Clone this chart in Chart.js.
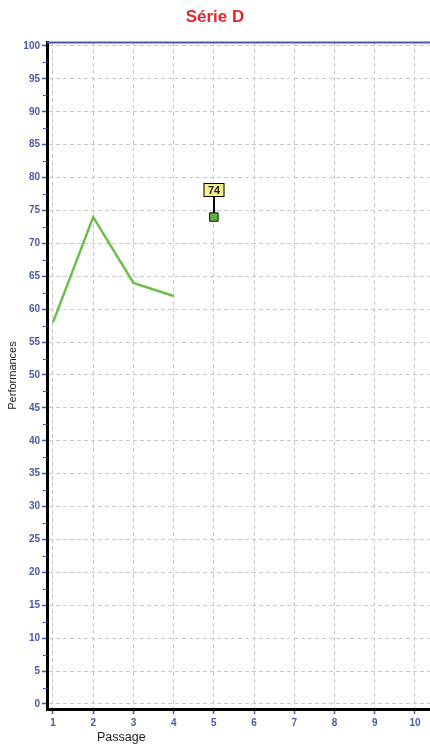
<!DOCTYPE html>
<html>
<head>
<meta charset="utf-8">
<script src="https://cdn.jsdelivr.net/npm/chart.js@4.4.1/dist/chart.umd.min.js"></script>
<style>
  html, body { margin: 0; padding: 0; background: #ffffff; }
  #wrap { width: 430px; height: 749px; }
</style>
</head>
<body>
<div id="wrap"><canvas id="c" width="430" height="749"></canvas></div>
<script>
// ---- data ----
const chartTitle = 'Série D';
const xAxisTitle = 'Passage';
const yAxisTitle = 'Performances';
const passages = [1, 2, 3, 4];
const seriesD = [58, 74, 64, 62];
const highlightPassage = [5];
const highlightValue = [74];
const xTickValues = [1, 2, 3, 4, 5, 6, 7, 8, 9, 10];
const yTickValues = [0, 5, 10, 15, 20, 25, 30, 35, 40, 45, 50, 55, 60, 65, 70, 75, 80, 85, 90, 95, 100];

const tickBlue = '#4a5aa8';
const font = 'Liberation Sans, Arial, sans-serif';

const lineData = passages.map((p, i) => ({ x: p, y: seriesD[i] }));
const pointData = highlightPassage.map((p, i) => ({ x: p, y: highlightValue[i] }));

const decor = {
  id: 'decor',
  beforeDatasetsDraw(chart) {
    const { ctx, chartArea } = chart;
    const ys = chart.scales.y;
    ctx.save();
    ctx.strokeStyle = '#4a5aa8';
    ctx.lineWidth = 2;
    ctx.beginPath();
    ctx.moveTo(chartArea.left, chartArea.top + 0.5);
    ctx.lineTo(chartArea.right, chartArea.top + 0.5);
    ctx.stroke();
    // minor ticks on the y axis (halfway between labelled ticks)
    ctx.strokeStyle = tickBlue;
    ctx.lineWidth = 1;
    ctx.beginPath();
    for (let i = 0; i < yTickValues.length - 1; i++) {
      const v = (yTickValues[i] + yTickValues[i + 1]) / 2;
      const py = Math.round(ys.getPixelForValue(v)) + 0.5;
      ctx.moveTo(chartArea.left - 4, py);
      ctx.lineTo(chartArea.left, py);
    }
    ctx.stroke();
    ctx.restore();
  },
  afterDatasetsDraw(chart) {
    const { ctx } = chart;
    const xs = chart.scales.x, ys = chart.scales.y;
    ctx.save();
    pointData.forEach(pt => {
      const px = Math.round(xs.getPixelForValue(pt.x));
      const py = Math.round(ys.getPixelForValue(pt.y));
      // stick
      ctx.strokeStyle = '#000';
      ctx.lineWidth = 2;
      ctx.beginPath();
      ctx.moveTo(px, py - 4);
      ctx.lineTo(px, py - 20);
      ctx.stroke();
      // box
      const bw = 21, bh = 14;
      const bx = px - bw / 2, by = py - 20 - bh;
      ctx.fillStyle = '#f7ef86';
      ctx.fillRect(bx, by, bw, bh);
      ctx.lineWidth = 1;
      ctx.strokeRect(bx + 0.5, by + 0.5, bw - 1, bh - 1);
      ctx.fillStyle = '#222';
      ctx.font = 'bold 11px ' + font;
      ctx.textAlign = 'center';
      ctx.textBaseline = 'middle';
      ctx.fillText(String(pt.y), px, by + bh / 2 + 0.5);
    });
    ctx.restore();
  },
  afterDraw(chart) {
    const { ctx } = chart;
    ctx.save();
    ctx.fillStyle = '#222';
    ctx.font = '12.5px ' + font;
    ctx.textAlign = 'left';
    ctx.textBaseline = 'middle';
    ctx.fillText(xAxisTitle, 97, 738);
    ctx.restore();
  }
};

new Chart(document.getElementById('c'), {
  type: 'line',
  data: {
    datasets: [
      {
        data: lineData,
        borderColor: '#6cc04a',
        borderWidth: 2.5,
        pointRadius: 0,
        fill: false,
        tension: 0
      },
      {
        data: pointData,
        showLine: false,
        pointStyle: 'rect',
        pointRadius: 6,
        pointBackgroundColor: '#5cb43e',
        pointBorderColor: '#111',
        pointBorderWidth: 1
      }
    ]
  },
  options: {
    responsive: false,
    animation: false,
    layout: { padding: 0, autoPadding: false },
    plugins: {
      legend: { display: false },
      tooltip: { enabled: false },
      title: {
        display: true,
        text: chartTitle,
        color: '#e3262b',
        font: { family: font, size: 17, weight: 'bold' },
        padding: { top: 7, bottom: 14.6 }
      }
    },
    scales: {
      x: {
        type: 'linear',
        min: 0.851,
        max: 10.373,
        afterBuildTicks: s => { s.ticks = xTickValues.map(v => ({ value: v })); },
        afterFit: s => { s.height = 40; s.paddingLeft = 0; s.paddingRight = 0; },
        ticks: {
          color: tickBlue,
          font: { family: font, size: 10, weight: 'bold' },
          padding: 3,
          maxRotation: 0,
          autoSkip: false
        },
        grid: {
          color: '#c8c8c8',
          lineWidth: 1,
          tickColor: tickBlue,
          tickLength: 5,
          tickWidth: 1.5
        },
        border: { color: '#000', width: 3, dash: [4, 3] }
      },
      y: {
        type: 'linear',
        min: -0.76,
        max: 100.6,
        afterBuildTicks: s => { s.ticks = yTickValues.map(v => ({ value: v })); },
        afterFit: s => { s.width = 47; s.paddingTop = 0; s.paddingBottom = 0; },
        ticks: {
          color: tickBlue,
          font: { family: font, size: 10, weight: 'bold' },
          padding: 2,
          autoSkip: false
        },
        grid: {
          color: '#c8c8c8',
          lineWidth: 1,
          tickColor: tickBlue,
          tickLength: 5,
          tickWidth: 1.5
        },
        border: { color: '#000', width: 3, dash: [4, 3] },
        title: {
          display: true,
          text: yAxisTitle,
          color: '#222',
          font: { family: font, size: 11 },
          padding: { top: 6.4, bottom: 0 }
        }
      }
    }
  },
  plugins: [decor]
});
</script>
</body>
</html>
